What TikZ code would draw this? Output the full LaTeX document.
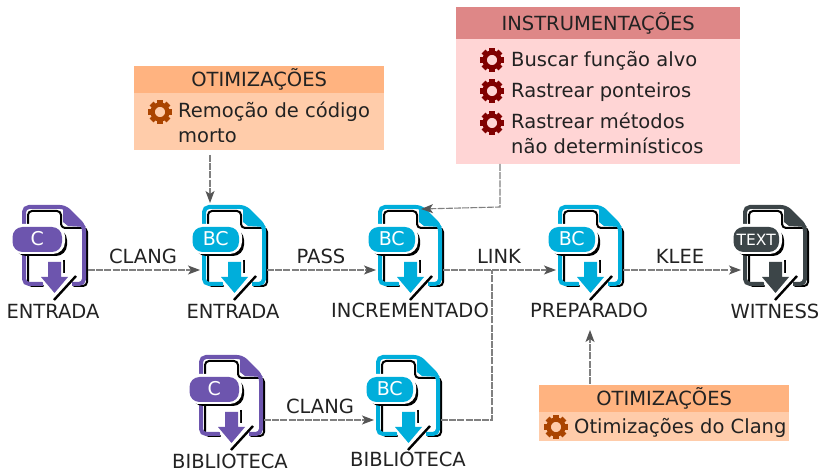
\documentclass[tikz,border=0pt]{standalone}
\usepackage{fontspec}
\setmainfont{DejaVu Sans}
\usetikzlibrary{arrows.meta,calc}
\definecolor{cpurple}{HTML}{6D55AE}
\definecolor{ccyan}{HTML}{00AEDB}
\definecolor{cdark}{HTML}{3C4548}
\definecolor{hdorange}{HTML}{FFB380}
\definecolor{bdorange}{HTML}{FFCCAA}
\definecolor{hdred}{HTML}{DE8787}
\definecolor{bdred}{HTML}{FFD5D5}
\definecolor{gearorange}{HTML}{AA4400}
\definecolor{gearred}{HTML}{800000}
\definecolor{inktext}{HTML}{222222}
\definecolor{connector}{HTML}{808080}
\definecolor{tipcolor}{HTML}{555555}
\expandafter\def\csname BCsize\endcsname{19}
\expandafter\def\csname Csize\endcsname{19}
\expandafter\def\csname TEXTsize\endcsname{15.5}
\expandafter\def\csname BCright\endcsname{37}
\expandafter\def\csname Cright\endcsname{40}
\expandafter\def\csname TEXTright\endcsname{36}
\newcommand{\iconsize}[1]{\csname #1size\endcsname}
\newcommand{\iconright}[1]{\csname #1right\endcsname}
\tikzset{
  x=1pt,y=-1pt,
  lbl/.style={font=\fontsize{19.5}{23}\selectfont,text=inktext,inner sep=0pt,anchor=base},
  item/.style={font=\fontsize{19.5}{25}\selectfont,text=inktext,inner sep=0pt,anchor=north west,align=left},
  boxhead/.style={anchor=north west,inner sep=0pt,font=\fontsize{19.5}{23}\selectfont,text=inktext,align=center},
  flow/.style={draw=connector,line width=1.1pt,dash pattern=on 7pt off 1.2pt,
    -{Stealth[length=12pt,width=9pt,inset=3pt,color=tipcolor]}},
  flowplain/.style={draw=connector,line width=1.1pt,dash pattern=on 7pt off 1.2pt},
  pics/gear/.style={code={
    \draw[#1,line width=4.4pt] (0,0) circle[radius=7.4];
    \foreach \a in {0,45,...,315}{\draw[#1,line width=5.5pt] (\a:8) -- (\a:12);}
  }},
  pics/fileicon/.style 2 args={code={
    \draw[black,line width=2pt,rounded corners=4pt,line cap=round]
      (21,81) -- (6,81) -- (6,6) -- (39,6) -- (39,23) -- (65,23) -- (65,81) -- (52,81);
    \fill[#1] (41,2) -- (64,22) -- (46,21) -- (41,17) -- cycle;
    \draw[#1,line width=4pt,rounded corners=5pt]
      (21,79) -- (2,79) -- (2,2) -- (43,2) -- (62,21) -- (62,79) -- (50,79);
    \fill[black,rounded corners=11pt] (-7,24) rectangle ({\iconright{#2}+5},51);
    \fill[white,rounded corners=12pt] (-13,19) rectangle ({\iconright{#2}+3},49);
    \fill[#1,rounded corners=10pt] (-9.5,22) rectangle (\iconright{#2},47);
    \node[inner sep=0pt,text=white,anchor=base,font=\fontsize{\iconsize{#2}}{20}\selectfont] at ({(\iconright{#2}-9.5)/2},41) {#2};
    \draw[black,line width=2pt] (42,55) -- (42,68);
    \filldraw[white,line width=4pt,line join=round]
      (26,57) -- (39,57) -- (39,72) -- (46,72) -- (32.5,88) -- (19,72) -- (26,72) -- cycle;
    \fill[#1] (26,57) -- (39,57) -- (39,72) -- (46,72) -- (32.5,88) -- (19,72) -- (26,72) -- cycle;
    \draw[black,line width=2.4pt] (32,95) -- (54,71);
    \coordinate (-w) at (-2,65);
    \coordinate (-e) at (65,65);
  }},
}
\begin{document}
\begin{tikzpicture}
\useasboundingbox (0,0) rectangle (820,470);
% icons
\pic (ce) at (22,205) {fileicon={cpurple}{C}};
\pic (bce) at (202,205) {fileicon={ccyan}{BC}};
\pic (bci) at (378,205) {fileicon={ccyan}{BC}};
\pic (bcp) at (558,205) {fileicon={ccyan}{BC}};
\pic (wit) at (743,205) {fileicon={cdark}{TEXT}};
\pic (cb) at (199,355) {fileicon={cpurple}{C}};
\pic (bcb) at (376,355) {fileicon={ccyan}{BC}};
% file labels
\node[lbl] (lce) at (53,319) {ENTRADA};
\node[lbl] (lbce) at (233,319) {ENTRADA};
\node[lbl] (lbci) at (410,318) {INCREMENTADO};
\node[lbl] (lbcp) at (589,318) {PREPARADO};
\node[lbl] (lwit) at (775,319) {WITNESS};
\node[lbl] (lcb) at (230,468) {BIBLIOTECA};
\node[lbl] (lbcb) at (408,467) {BIBLIOTECA};
% connector labels
\node[lbl] (t1) at (143,264) {CLANG};
\node[lbl] (t2) at (321,264) {PASS};
\node[lbl] (t3) at (499,264) {LINK};
\node[lbl] (t4) at (680,264) {KLEE};
\node[lbl] (t5) at (320,414) {CLANG};
% orange box 1
\fill[bdorange] (134,93) rectangle (384,150);
\node[boxhead,fill=hdorange,minimum width=250pt,minimum height=27pt] (ot1) at (134,66) {OTIMIZAÇÕES};
\path (160,112) pic {gear=gearorange};
\node[item] (ot1t) at (178,102) {Remoção de código\\morto};
\coordinate (ot1out) at (210,155);
% red box
\fill[bdred] (456,39) rectangle (740,164);
\node[boxhead,fill=hdred,minimum width=284pt,minimum height=32pt] (ins) at (456,7) {INSTRUMENTAÇÕES};
\path (492,60) pic {gear=gearred};
\path (492,91) pic {gear=gearred};
\path (492,123) pic {gear=gearred};
\node[item] (ins1) at (511,51) {Buscar função alvo};
\node[item] (ins2) at (511,82) {Rastrear ponteiros};
\node[item] (ins3) at (511,113) {Rastrear métodos\\não determinísticos};
\coordinate (insout) at (500,164);
\coordinate (insbend) at (500,207);
\coordinate (instip) at (421,209);
% orange box 2
\fill[bdorange] (539,412) rectangle (789,441);
\node[boxhead,fill=hdorange,minimum width=250pt,minimum height=27pt] (ot2) at (539,385) {OTIMIZAÇÕES};
\path (556,427) pic {gear=gearorange};
\node[item] (ot2t) at (574,418) {Otimizações do Clang};
\coordinate (ot2out) at (590,384);
\coordinate (ot2tip) at (590,330);
\coordinate (ot1tip) at (210,203);
\coordinate (libbend) at (492,420);
\coordinate (libend) at (492,270);
% connectors
\draw[flow] (ce-e) ++(1,0) -- (bce-w);
\draw[flow] (bce-e) -- (bci-w);
\draw[flow] (bci-e) -- (bcp-w);
\draw[flow] (bcp-e) -- (wit-w);
\draw[flow] (cb-e) -- (bcb-w);
\draw[flowplain] (bcb-e) -- (libbend) -- (libend);
\draw[flow] (ot1out) -- (ot1tip);
\draw[flow] (insout) -- (insbend) -- (instip);
\draw[flow] (ot2out) -- (ot2tip);
\end{tikzpicture}
\end{document}
